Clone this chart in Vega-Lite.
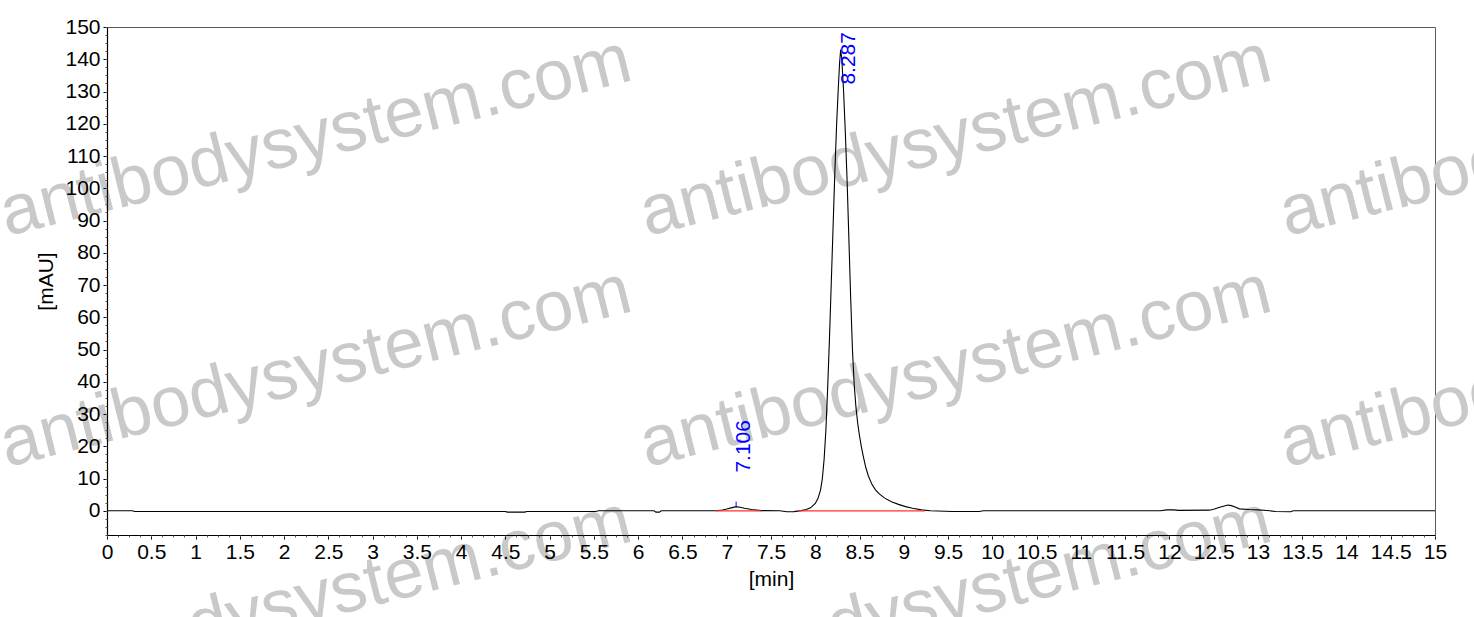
{
  "$schema": "https://vega.github.io/schema/vega-lite/v6.json",
  "width": 1328,
  "height": 508,
  "autosize": {"type": "none"},
  "padding": {"left": 107, "top": 27, "right": 39, "bottom": 82},
  "background": "white",
  "datasets": {
    "trace": [
      {"t": 0, "v": 0}, {"t": 0.29, "v": 0}, {"t": 0.31, "v": -0.2}, {"t": 4.5, "v": -0.2},
      {"t": 4.52, "v": -0.4}, {"t": 4.72, "v": -0.4}, {"t": 4.74, "v": -0.2}, {"t": 5.52, "v": -0.2},
      {"t": 5.55, "v": 0}, {"t": 6.18, "v": 0}, {"t": 6.2, "v": -0.4}, {"t": 6.24, "v": -0.4},
      {"t": 6.26, "v": 0}, {"t": 6.88, "v": 0}, {"t": 6.95, "v": 0.25}, {"t": 7.0, "v": 0.55},
      {"t": 7.05, "v": 0.9}, {"t": 7.106, "v": 1.3}, {"t": 7.15, "v": 1.1}, {"t": 7.2, "v": 0.8},
      {"t": 7.28, "v": 0.4}, {"t": 7.39, "v": 0.05}, {"t": 7.6, "v": 0}, {"t": 7.68, "v": -0.3},
      {"t": 7.76, "v": -0.25}, {"t": 7.84, "v": 0.05}, {"t": 7.9, "v": 0.4}, {"t": 7.95, "v": 1.0},
      {"t": 8.0, "v": 2.3}, {"t": 8.03, "v": 3.8}, {"t": 8.06, "v": 6.5}, {"t": 8.08, "v": 10},
      {"t": 8.1, "v": 16}, {"t": 8.12, "v": 25}, {"t": 8.14, "v": 38}, {"t": 8.16, "v": 53},
      {"t": 8.18, "v": 70}, {"t": 8.2, "v": 87}, {"t": 8.22, "v": 104}, {"t": 8.24, "v": 119},
      {"t": 8.26, "v": 131}, {"t": 8.275, "v": 139}, {"t": 8.287, "v": 143}, {"t": 8.3, "v": 140},
      {"t": 8.32, "v": 130}, {"t": 8.34, "v": 117}, {"t": 8.36, "v": 102}, {"t": 8.38, "v": 84},
      {"t": 8.4, "v": 66}, {"t": 8.42, "v": 50}, {"t": 8.44, "v": 39}, {"t": 8.46, "v": 32},
      {"t": 8.48, "v": 27}, {"t": 8.5, "v": 23.2}, {"t": 8.52, "v": 20}, {"t": 8.54, "v": 17.2},
      {"t": 8.57, "v": 13.5}, {"t": 8.6, "v": 10.8}, {"t": 8.64, "v": 8.2}, {"t": 8.68, "v": 6.5},
      {"t": 8.72, "v": 5.3}, {"t": 8.78, "v": 4.0}, {"t": 8.86, "v": 2.8}, {"t": 8.94, "v": 2.0},
      {"t": 9.02, "v": 1.3}, {"t": 9.1, "v": 0.8}, {"t": 9.2, "v": 0.3}, {"t": 9.3, "v": 0},
      {"t": 9.55, "v": -0.2}, {"t": 9.85, "v": -0.2},
      {"t": 9.9, "v": 0}, {"t": 11.9, "v": 0}, {"t": 11.97, "v": 0.3}, {"t": 12.05, "v": 0.3},
      {"t": 12.1, "v": 0.15}, {"t": 12.45, "v": 0.2}, {"t": 12.5, "v": 0.5}, {"t": 12.56, "v": 1.0},
      {"t": 12.62, "v": 1.5}, {"t": 12.66, "v": 1.8}, {"t": 12.7, "v": 1.6}, {"t": 12.75, "v": 1.1},
      {"t": 12.79, "v": 0.6}, {"t": 12.9, "v": 0.4}, {"t": 13.0, "v": 0.3}, {"t": 13.1, "v": 0.1},
      {"t": 13.2, "v": -0.2}, {"t": 13.37, "v": -0.3}, {"t": 13.4, "v": 0}, {"t": 15, "v": 0}
    ],
    "baselines": [
      {"start": 6.88, "end": 7.39, "v": 0},
      {"start": 7.81, "end": 9.24, "v": 0}
    ],
    "peaks": [
      {"t": 7.106, "v": 1.3, "label": "7.106"},
      {"t": 8.287, "v": 143, "label": "8.287"}
    ],
    "watermark": [
      {"x": 2.415, "y": 109.4, "text": "antibodysystem.com"},
      {"x": 9.642, "y": 109.4, "text": "antibodysystem.com"},
      {"x": 16.87, "y": 109.4, "text": "antibodysystem.com"},
      {"x": 2.415, "y": 37.8, "text": "antibodysystem.com"},
      {"x": 9.642, "y": 37.8, "text": "antibodysystem.com"},
      {"x": 16.87, "y": 37.8, "text": "antibodysystem.com"},
      {"x": 2.415, "y": -33.5, "text": "antibodysystem.com"},
      {"x": 9.642, "y": -33.5, "text": "antibodysystem.com"}
    ]
  },
  "layer": [
    {
      "data": {"name": "watermark"},
      "mark": {"type": "text", "font": "Liberation Sans", "fontSize": 71, "color": "#c9c9c9", "angle": -14, "align": "center", "baseline": "alphabetic"},
      "encoding": {
        "x": {"field": "x", "type": "quantitative", "axis": null},
        "y": {"field": "y", "type": "quantitative", "axis": null},
        "text": {"field": "text"}
      }
    },
    {
      "data": {"name": "trace"},
      "mark": {"type": "line", "color": "#000000", "strokeWidth": 1.1, "clip": true},
      "encoding": {
        "x": {
          "field": "t", "type": "quantitative",
          "scale": {"domain": [0, 15], "nice": false, "zero": false},
          "axis": {
            "orient": "bottom", "title": "[min]", "zindex": 2,
            "values": [0, 0.5, 1, 1.5, 2, 2.5, 3, 3.5, 4, 4.5, 5, 5.5, 6, 6.5, 7, 7.5, 8, 8.5, 9, 9.5, 10, 10.5, 11, 11.5, 12, 12.5, 13, 13.5, 14, 14.5, 15],
            "format": ".1~f", "tickSize": 4, "labelPadding": 2, "titlePadding": 6, "labelOverlap": false, "labelFlush": false
          }
        },
        "y": {
          "field": "v", "type": "quantitative",
          "scale": {"domain": [-7.5, 150], "nice": false, "zero": false},
          "axis": {
            "orient": "left", "title": "[mAU]", "zindex": 2,
            "values": [0, 10, 20, 30, 40, 50, 60, 70, 80, 90, 100, 110, 120, 130, 140, 150],
            "format": "d", "tickSize": 4, "labelPadding": 3, "titlePadding": 8, "labelOverlap": false, "labelFlush": false
          }
        }
      }
    },
    {
      "data": {"name": "baselines"},
      "mark": {"type": "rule", "color": "#ff3030", "strokeWidth": 1.2},
      "encoding": {
        "x": {
          "field": "start", "type": "quantitative",
          "axis": {
            "orient": "bottom", "title": null, "labels": false, "domain": false, "tickSize": 2, "tickColor": "#555555", "zindex": 2,
            "values": [0, 0.125, 0.25, 0.375, 0.5, 0.625, 0.75, 0.875, 1, 1.125, 1.25, 1.375, 1.5, 1.625, 1.75, 1.875, 2, 2.125, 2.25, 2.375, 2.5, 2.625, 2.75, 2.875, 3, 3.125, 3.25, 3.375, 3.5, 3.625, 3.75, 3.875, 4, 4.125, 4.25, 4.375, 4.5, 4.625, 4.75, 4.875, 5, 5.125, 5.25, 5.375, 5.5, 5.625, 5.75, 5.875, 6, 6.125, 6.25, 6.375, 6.5, 6.625, 6.75, 6.875, 7, 7.125, 7.25, 7.375, 7.5, 7.625, 7.75, 7.875, 8, 8.125, 8.25, 8.375, 8.5, 8.625, 8.75, 8.875, 9, 9.125, 9.25, 9.375, 9.5, 9.625, 9.75, 9.875, 10, 10.125, 10.25, 10.375, 10.5, 10.625, 10.75, 10.875, 11, 11.125, 11.25, 11.375, 11.5, 11.625, 11.75, 11.875, 12, 12.125, 12.25, 12.375, 12.5, 12.625, 12.75, 12.875, 13, 13.125, 13.25, 13.375, 13.5, 13.625, 13.75, 13.875, 14, 14.125, 14.25, 14.375, 14.5, 14.625, 14.75, 14.875, 15]
          }
        },
        "x2": {"field": "end"},
        "y": {
          "field": "v", "type": "quantitative",
          "axis": {
            "orient": "left", "title": null, "labels": false, "domain": false, "tickSize": 2, "tickColor": "#555555", "zindex": 2,
            "values": [-7.5, -5, -2.5, 0, 2.5, 5, 7.5, 10, 12.5, 15, 17.5, 20, 22.5, 25, 27.5, 30, 32.5, 35, 37.5, 40, 42.5, 45, 47.5, 50, 52.5, 55, 57.5, 60, 62.5, 65, 67.5, 70, 72.5, 75, 77.5, 80, 82.5, 85, 87.5, 90, 92.5, 95, 97.5, 100, 102.5, 105, 107.5, 110, 112.5, 115, 117.5, 120, 122.5, 125, 127.5, 130, 132.5, 135, 137.5, 140, 142.5, 145, 147.5, 150]
          }
        }
      }
    },
    {
      "data": {"name": "peaks"},
      "transform": [{"filter": "datum.label == '7.106'"}],
      "mark": {"type": "rule", "color": "#0000ff", "strokeWidth": 1, "y2Offset": -5},
      "encoding": {
        "x": {"field": "t", "type": "quantitative", "axis": null},
        "y": {"field": "v", "type": "quantitative", "axis": null},
        "y2": {"field": "v"}
      }
    },
    {
      "data": {"name": "peaks"},
      "transform": [{"filter": "datum.label == '7.106'"}],
      "mark": {"type": "text", "font": "Liberation Sans", "fontSize": 21, "color": "#0000ff", "angle": 270, "align": "left", "baseline": "middle", "xOffset": 8, "yOffset": -34},
      "encoding": {
        "x": {"field": "t", "type": "quantitative", "axis": null},
        "y": {"field": "v", "type": "quantitative", "axis": null},
        "text": {"field": "label"}
      }
    },
    {
      "data": {"name": "peaks"},
      "transform": [{"filter": "datum.label == '8.287'"}],
      "mark": {"type": "text", "font": "Liberation Sans", "fontSize": 21, "color": "#0000ff", "angle": 270, "align": "left", "baseline": "middle", "xOffset": 8.5, "yOffset": 35},
      "encoding": {
        "x": {"field": "t", "type": "quantitative", "axis": null},
        "y": {"field": "v", "type": "quantitative", "axis": null},
        "text": {"field": "label"}
      }
    }
  ],
  "resolve": {"axis": {"x": "independent", "y": "independent"}},
  "config": {
    "view": {"stroke": "#5a5a5a", "strokeWidth": 1},
    "axis": {
      "grid": false,
      "labelFont": "Liberation Sans",
      "titleFont": "Liberation Sans",
      "labelFontSize": 21,
      "titleFontSize": 21,
      "titleFontWeight": "normal",
      "labelColor": "#000000",
      "titleColor": "#000000",
      "domainColor": "#000000",
      "tickColor": "#000000",
      "domainWidth": 1.2
    }
  }
}
